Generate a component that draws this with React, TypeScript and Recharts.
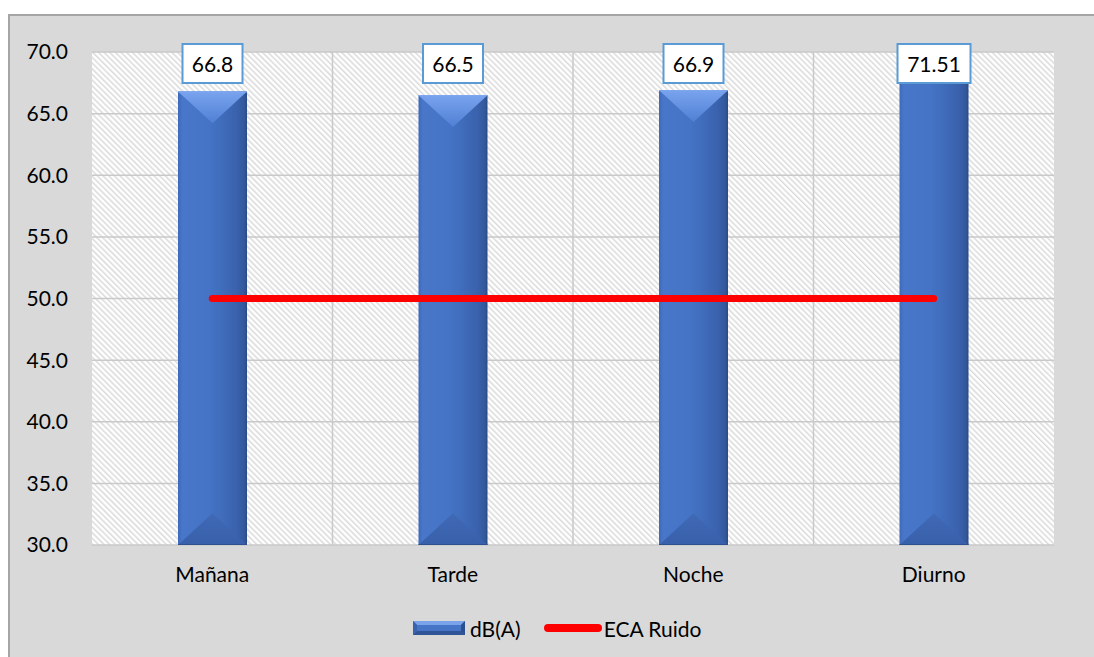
import React from 'react';
import {
  ComposedChart,
  Bar,
  Line,
  XAxis,
  YAxis,
  CartesianGrid,
  Legend,
  LabelList,
} from 'recharts';

// Sound level per period, with the ECA noise standard as reference
const periods = ['Mañana', 'Tarde', 'Noche', 'Diurno'];
const dbA = [66.8, 66.5, 66.9, 71.51];
const ecaRuido = [50, 50, 50, 50];
const yTicks = [30, 35, 40, 45, 50, 55, 60, 65, 70];

const data = periods.map((p, i) => ({ period: p, db: dbA[i], eca: ecaRuido[i] }));

const FONT = "Lato, 'Open Sans', sans-serif";
const CHART_W = 1084;
const CHART_H = 641;
const PLOT_TOP = 36;

// vertical gridlines sit on the boundaries between category bands
const bandBoundaries = ({ offset }: any) => {
  const step = offset.width / periods.length;
  return periods.slice(1).map((_, i) => offset.left + step * (i + 1));
};

const BeveledBar = (props: any) => {
  const { x, y, width, height } = props;
  if (!height || height <= 0) return null;
  const b = Math.min(width * 0.46, height / 2);
  const cx = x + width / 2;
  return (
    <g>
      <rect x={x} y={y} width={width} height={height} fill="url(#barBody)" />
      <polygon
        points={`${x},${y + height} ${x + width},${y + height} ${cx},${y + height - b}`}
        fill="url(#barBottom)"
      />
      <polygon points={`${x},${y} ${x + width},${y} ${cx},${y + b}`} fill="url(#barTop)" />
      <line x1={x} y1={y + 0.5} x2={x + width} y2={y + 0.5} stroke="#7FA8F0" strokeWidth={1} />
      <line
        x1={x}
        y1={y + height - 0.5}
        x2={x + width}
        y2={y + height - 0.5}
        stroke="#2E5090"
        strokeWidth={1}
      />
    </g>
  );
};

const ValueBox = (props: any) => {
  const { x, width, value } = props;
  const text = String(value);
  const digits = text.replace(/[^0-9]/g, '').length;
  const dots = text.length - digits;
  const w = 13 * digits + 4 * dots + 17;
  const h = 39;
  const cx = x + width / 2;
  const top = PLOT_TOP - 8;
  return (
    <g>
      <rect
        x={cx - w / 2}
        y={top}
        width={w}
        height={h}
        fill="#FFFFFF"
        stroke="#5B9BD5"
        strokeWidth={2}
      />
      <text
        x={cx}
        y={top + h / 2}
        textAnchor="middle"
        dominantBaseline="central"
        fontFamily={FONT}
        fontSize={21}
        fill="#000"
      >
        {text}
      </text>
    </g>
  );
};

const renderLegend = (props: any) => {
  const payload = [...(props.payload || [])].sort(
    (a: any, b: any) => (a.type === 'line' ? 1 : 0) - (b.type === 'line' ? 1 : 0)
  );
  return (
    <div
      style={{
        display: 'flex',
        alignItems: 'center',
        height: 30,
        paddingLeft: 403,
        fontFamily: FONT,
        fontSize: 21,
        color: '#000',
      }}
    >
      {payload.map((entry: any, i: number) =>
        entry.type === 'line' ? (
          <div key={i} style={{ display: 'flex', alignItems: 'center', marginLeft: 23 }}>
            <svg width={58} height={10}>
              <line
                x1={4}
                y1={5}
                x2={54}
                y2={5}
                stroke={entry.color}
                strokeWidth={8}
                strokeLinecap="round"
              />
            </svg>
            <span style={{ marginLeft: 2 }}>{entry.value}</span>
          </div>
        ) : (
          <div key={i} style={{ display: 'flex', alignItems: 'center' }}>
            <svg width={52} height={14}>
              <rect x={0} y={0} width={52} height={14} fill="#3E68B6" />
              <polygon points="0,0 52,0 48,4 4,4" fill="#7AA3EC" />
              <polygon points="0,14 52,14 48,10 4,10" fill="#2F5597" />
              <polygon points="0,0 4,4 4,10 0,14" fill="#3A62AD" />
              <polygon points="52,0 48,4 48,10 52,14" fill="#2B4E8E" />
              <rect x={4} y={4} width={44} height={6} fill="#4674C6" />
            </svg>
            <span style={{ marginLeft: 5 }}>{entry.value}</span>
          </div>
        )
      )}
    </div>
  );
};

export default function App() {
  return (
    <div
      style={{
        position: 'fixed',
        left: 8,
        top: 14,
        width: CHART_W + 2,
        height: CHART_H + 2,
        background: '#D9D9D9',
        borderLeft: '2px solid #A5A5A5',
        borderTop: '2px solid #A5A5A5',
        boxSizing: 'border-box',
        overflow: 'hidden',
      }}
    >
      <ComposedChart
        width={CHART_W}
        height={CHART_H}
        data={data}
        margin={{ top: PLOT_TOP, right: 40, bottom: 0, left: 0 }}
        barSize={69}
      >
        <defs>
          <pattern
            id="hatch"
            width="4"
            height="4"
            patternUnits="userSpaceOnUse"
            patternTransform="rotate(-45)"
          >
            <rect width="4" height="4" fill="#FFFFFF" />
            <rect width="1.5" height="4" fill="#DADADA" />
          </pattern>
          <linearGradient id="barBody" x1="0" y1="0" x2="1" y2="0">
            <stop offset="0%" stopColor="#3D69BA" />
            <stop offset="6%" stopColor="#4876C9" />
            <stop offset="45%" stopColor="#4573C5" />
            <stop offset="55%" stopColor="#4270C0" />
            <stop offset="85%" stopColor="#3A62AD" />
            <stop offset="96%" stopColor="#33589C" />
            <stop offset="100%" stopColor="#2A4A86" />
          </linearGradient>
          <linearGradient id="barTop" x1="0" y1="0" x2="0" y2="1">
            <stop offset="0%" stopColor="#79A3EE" />
            <stop offset="100%" stopColor="#5080D4" />
          </linearGradient>
          <linearGradient id="barBottom" x1="0" y1="0" x2="0" y2="1">
            <stop offset="0%" stopColor="#4069B6" />
            <stop offset="100%" stopColor="#3860AA" />
          </linearGradient>
        </defs>
        <CartesianGrid
          fill="url(#hatch)"
          fillOpacity={1}
          stroke="#C9C9C9"
          strokeWidth={1.5}
          vertical
          horizontal
          verticalCoordinatesGenerator={bandBoundaries}
        />
        <XAxis
          dataKey="period"
          height={82}
          axisLine={false}
          tickLine={false}
          tickSize={0}
          tickMargin={22}
          tick={{ fontFamily: FONT, fontSize: 21, fill: '#000' }}
        />
        <YAxis
          width={82}
          domain={[30, 70]}
          ticks={yTicks}
          allowDataOverflow
          axisLine={false}
          tickLine={false}
          tickSize={0}
          tickMargin={24}
          tickFormatter={(v: number) => v.toFixed(1)}
          tick={{ fontFamily: FONT, fontSize: 21, fill: '#000' }}
        />
        <Legend
          verticalAlign="bottom"
          height={30}
          content={renderLegend}
          wrapperStyle={{ left: 0, top: 597, bottom: 'auto', width: CHART_W }}
        />
        <Bar
          dataKey="db"
          name="dB(A)"
          legendType="rect"
          fill="#4472C4"
          shape={BeveledBar}
          isAnimationActive={false}
        >
          <LabelList dataKey="db" content={ValueBox} />
        </Bar>
        <Line
          dataKey="eca"
          name="ECA Ruido"
          legendType="line"
          type="linear"
          stroke="#FF0000"
          strokeWidth={7}
          strokeLinecap="round"
          dot={false}
          activeDot={false}
          isAnimationActive={false}
        />
      </ComposedChart>
    </div>
  );
}
